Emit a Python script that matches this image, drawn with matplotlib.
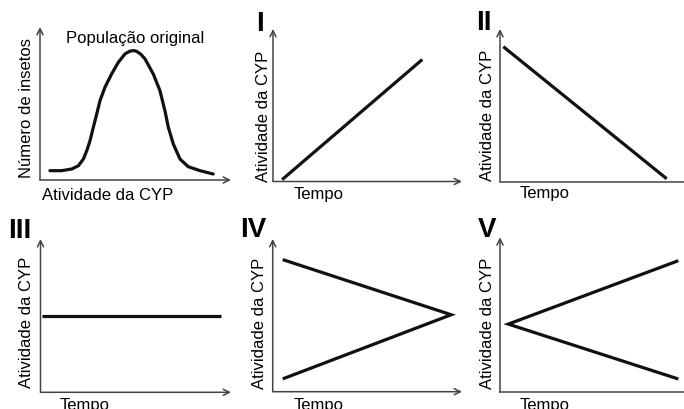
import matplotlib
matplotlib.use("Agg")
import matplotlib.pyplot as plt

plt.rcParams["font.family"] = ["Liberation Sans", "DejaVu Sans"]

W, H = 684, 410

# bell curve of the original population (axis fractions)
curve_x = [0.052, 0.114, 0.166, 0.201, 0.227, 0.245, 0.262, 0.279, 0.297, 0.314,
           0.340, 0.375, 0.410, 0.445, 0.470, 0.490, 0.506, 0.528, 0.550, 0.593,
           0.628, 0.654, 0.672, 0.698, 0.733, 0.776, 0.838, 0.907]
curve_y = [0.061, 0.061, 0.072, 0.093, 0.137, 0.192, 0.257, 0.344, 0.431, 0.518,
           0.606, 0.693, 0.769, 0.824, 0.842, 0.846, 0.841, 0.822, 0.791, 0.693,
           0.584, 0.453, 0.344, 0.235, 0.137, 0.087, 0.061, 0.039]

# scenarios I - V: CYP activity over time
I_x = [0.048, 0.79]
I_y = [0.012, 0.80]
II_x = [0.018, 0.906]
II_y = [0.884, 0.018]
III_x = [0.01, 0.95]
III_y = [0.50, 0.50]
IV_x = [0.053, 0.943, 0.053]
IV_y = [0.865, 0.504, 0.084]
V_x = [0.969, 0.045, 0.969]
V_y = [0.849, 0.44, 0.086]

panel_names = ["", "I", "II", "III", "IV", "V"]

fig = plt.figure(figsize=(W / 100, H / 100), dpi=100)


def px(x, y):
    return x / W, 1 - y / H


def make_axes(x0, x1, y0, y1, x_arrow=True):
    # x0: y-axis position, x1: end of x arrow, y0: x-axis position, y1: top of y arrow
    ax = fig.add_axes([x0 / W, 1 - y0 / H, (x1 - x0) / W, (y0 - y1) / H])
    ax.set_xlim(0, 1)
    ax.set_ylim(0, 1)
    ax.axis("off")
    arrow = dict(arrowstyle="->", lw=1.1, color="#444444", shrinkA=0, shrinkB=0,
                 mutation_scale=11)
    if x_arrow:
        ax.annotate("", xy=(1, 0), xytext=(0, 0), xycoords="axes fraction",
                    arrowprops=arrow, annotation_clip=False)
    else:
        ax.plot([0, 1.05], [0, 0], color="#444444", lw=1.1, clip_on=False)
    ax.annotate("", xy=(0, 1), xytext=(0, 0), xycoords="axes fraction",
                arrowprops=arrow, annotation_clip=False)
    return ax


line_kw = dict(color="#111111", lw=2.3, solid_capstyle="butt", solid_joinstyle="miter",
               clip_on=False)

ax0 = make_axes(40, 231, 181, 28)
ax0.plot(curve_x, curve_y, color="#111111", lw=2.3, solid_joinstyle="round",
         solid_capstyle="round", clip_on=False)

ax1 = make_axes(273, 462, 182.5, 30)
ax1.plot(I_x, I_y, **line_kw)

ax2 = make_axes(500, 684, 182.5, 30, x_arrow=False)
ax2.plot(II_x, II_y, **line_kw)

ax3 = make_axes(40.5, 231, 393.3, 240)
ax3.plot(III_x, III_y, **line_kw)

ax4 = make_axes(272.7, 462, 392.7, 240)
ax4.plot(IV_x, IV_y, **line_kw)

ax5 = make_axes(500, 684, 393.3, 238.3, x_arrow=False)
ax5.plot(V_x, V_y, **line_kw)

fs = 12
# first panel labels
fig.text(*px(135, 38), "População original", fontsize=fs, ha="center", va="center")
fig.text(*px(108, 196), "Atividade da CYP", fontsize=fs, ha="center", va="center")
fig.text(*px(27, 108), "Número de insetos", fontsize=fs, ha="center", va="center",
         rotation=90)

# y labels of scenarios
ylab_pos = [(263, 116), (487, 115), (27, 322), (260, 323), (487, 323)]
for x, y in ylab_pos:
    fig.text(*px(x, y), "Atividade da CYP", fontsize=fs, ha="center", va="center",
             rotation=90)

# x labels
tempo_pos = [(319, 195), (545, 194), (85, 406), (319, 406), (545, 406)]
for x, y in tempo_pos:
    fig.text(*px(x, y), "Tempo", fontsize=fs, ha="center", va="center")

# roman numerals
num_pos = [(260, 24), (484, 23), (20, 231), (253, 230), (487, 230)]
for name, (x, y) in zip(panel_names[1:], num_pos):
    fig.text(*px(x, y), name, fontsize=20, fontweight="bold", ha="center", va="center")

fig.savefig("out.png", dpi=100)
